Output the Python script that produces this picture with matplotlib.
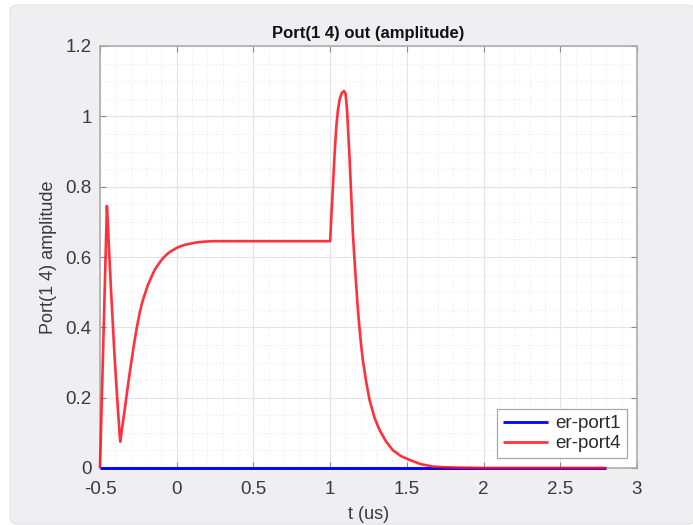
import matplotlib
matplotlib.use("Agg")
import matplotlib.pyplot as plt
from matplotlib.patches import FancyBboxPatch
from matplotlib.ticker import MultipleLocator

# ---- data ----
t_port1 = [-0.5, 2.8]
a_port1 = [0.0, 0.0]

t_port4 = [-0.500, -0.490, -0.480, -0.470, -0.460, -0.455, -0.450, -0.440,
           -0.426, -0.405, -0.383, -0.372, -0.368, -0.360, -0.350, -0.339,
           -0.323, -0.307, -0.290, -0.274, -0.258, -0.242, -0.228, -0.215,
           -0.200, -0.188, -0.170, -0.155, -0.140, -0.123, -0.105, -0.090,
           -0.075, -0.058, -0.035, -0.015, 0.005, 0.029, 0.055, 0.080, 0.110,
           0.138, 0.190, 0.246, 0.350, 0.500, 0.700, 0.900, 1.000, 1.006,
           1.018, 1.030, 1.040, 1.050, 1.061, 1.075, 1.090, 1.100, 1.110,
           1.116, 1.127, 1.138, 1.148, 1.165, 1.181, 1.197, 1.213, 1.235,
           1.257, 1.290, 1.322, 1.365, 1.408, 1.460, 1.517, 1.590, 1.670,
           1.750, 1.850, 2.000, 2.400, 2.800]
a_port4 = [0.000, 0.165, 0.330, 0.495, 0.660, 0.745, 0.705, 0.610,
           0.487, 0.317, 0.165, 0.095, 0.075, 0.100, 0.132, 0.165,
           0.218, 0.269, 0.318, 0.364, 0.404, 0.440, 0.466, 0.485,
           0.504, 0.520, 0.538, 0.553, 0.566, 0.577, 0.588, 0.596,
           0.603, 0.610, 0.617, 0.622, 0.627, 0.631, 0.635, 0.637, 0.640,
           0.642, 0.644, 0.645, 0.645, 0.645, 0.645, 0.645, 0.645, 0.700,
           0.800, 0.900, 0.970, 1.015, 1.046, 1.066, 1.072, 1.065, 1.020,
           0.970, 0.876, 0.770, 0.668, 0.550, 0.449, 0.370, 0.307, 0.245,
           0.193, 0.142, 0.108, 0.075, 0.051, 0.034, 0.023, 0.011, 0.004,
           0.002, 0.001, 0.000, 0.000, 0.000]

x_ticks = [-0.5, 0, 0.5, 1, 1.5, 2, 2.5, 3]
x_tick_labels = ["-0.5", "0", "0.5", "1", "1.5", "2", "2.5", "3"]
y_ticks = [0, 0.2, 0.4, 0.6, 0.8, 1.0, 1.2]
y_tick_labels = ["0", "0.2", "0.4", "0.6", "0.8", "1", "1.2"]

plt.rcParams['font.family'] = ['Liberation Sans', 'DejaVu Sans']
plt.rcParams['axes.unicode_minus'] = False

W, H = 693, 525
fig = plt.figure(figsize=(W / 100, H / 100), dpi=100)
fig.patch.set_facecolor('white')

# grey rounded panel
panel = FancyBboxPatch((10 / W, 1 / H), (W - 8) / W, (H - 6) / H,
                       boxstyle="round,pad=0,rounding_size=0.012",
                       transform=fig.transFigure, facecolor='#efeef0',
                       edgecolor='#e2e2e4', linewidth=0.8, zorder=-10)
fig.patches.append(panel)

ax = fig.add_axes([100 / W, 1 - 468 / H, (637 - 100) / W, (468 - 46) / H])
ax.set_facecolor('white')

ax.plot(t_port1, a_port1, color=(0, 0, 1), linewidth=2.1, label='er-port1',
        solid_capstyle='butt', zorder=5, clip_on=False)
ax.plot(t_port4, a_port4, color=(1, 0.05, 0.1), alpha=0.85, linewidth=1.9,
        label='er-port4', solid_capstyle='butt', zorder=6, clip_on=False)

ax.set_xlim(-0.5, 3)
ax.set_ylim(0, 1.2)
ax.set_xticks(x_ticks)
ax.set_xticklabels(x_tick_labels)
ax.set_yticks(y_ticks)
ax.set_yticklabels(y_tick_labels)
ax.xaxis.set_minor_locator(MultipleLocator(0.1))
ax.yaxis.set_minor_locator(MultipleLocator(0.05))

ax.grid(True, which='major', color='#e3e3e3', linewidth=0.8, linestyle='-')
ax.grid(True, which='minor', color='#e6e6e6', linewidth=0.7, linestyle=(0, (1, 2.5)))
ax.set_axisbelow(True)

ax.tick_params(axis='both', which='major', direction='in', length=4,
               width=0.8, color='#8a8a8a', labelsize=13.5,
               labelcolor='#3a3a3a', top=True, right=True)
ax.tick_params(axis='x', which='major', pad=9)
ax.tick_params(axis='y', which='major', pad=6)
ax.tick_params(axis='both', which='minor', length=0)

for s in ax.spines.values():
    s.set_color('#a8a8a8')
    s.set_linewidth(1.1)
    s.set_zorder(2)

ax.set_title('Port(1 4) out (amplitude)', fontsize=12, fontweight='bold',
             color='#111111', pad=6)
ax.set_xlabel('t (us)', fontsize=13, color='#3a3a3a', labelpad=6)
ax.set_ylabel('Port(1 4) amplitude', fontsize=13, color='#3a3a3a', labelpad=6)

leg = ax.legend(loc='lower right', fontsize=13.5, frameon=True, fancybox=False,
                edgecolor='#a8a8a8', framealpha=1, borderpad=0.3,
                handlelength=2.4, handletextpad=0.4, labelspacing=0.15,
                borderaxespad=0.55)
leg.set_zorder(10)
leg.get_frame().set_linewidth(0.9)
for txt in leg.get_texts():
    txt.set_color('#2a2a2a')
for ln in leg.get_lines():
    ln.set_linewidth(2.0)

fig.savefig('out.png', dpi=100, facecolor=fig.get_facecolor())
